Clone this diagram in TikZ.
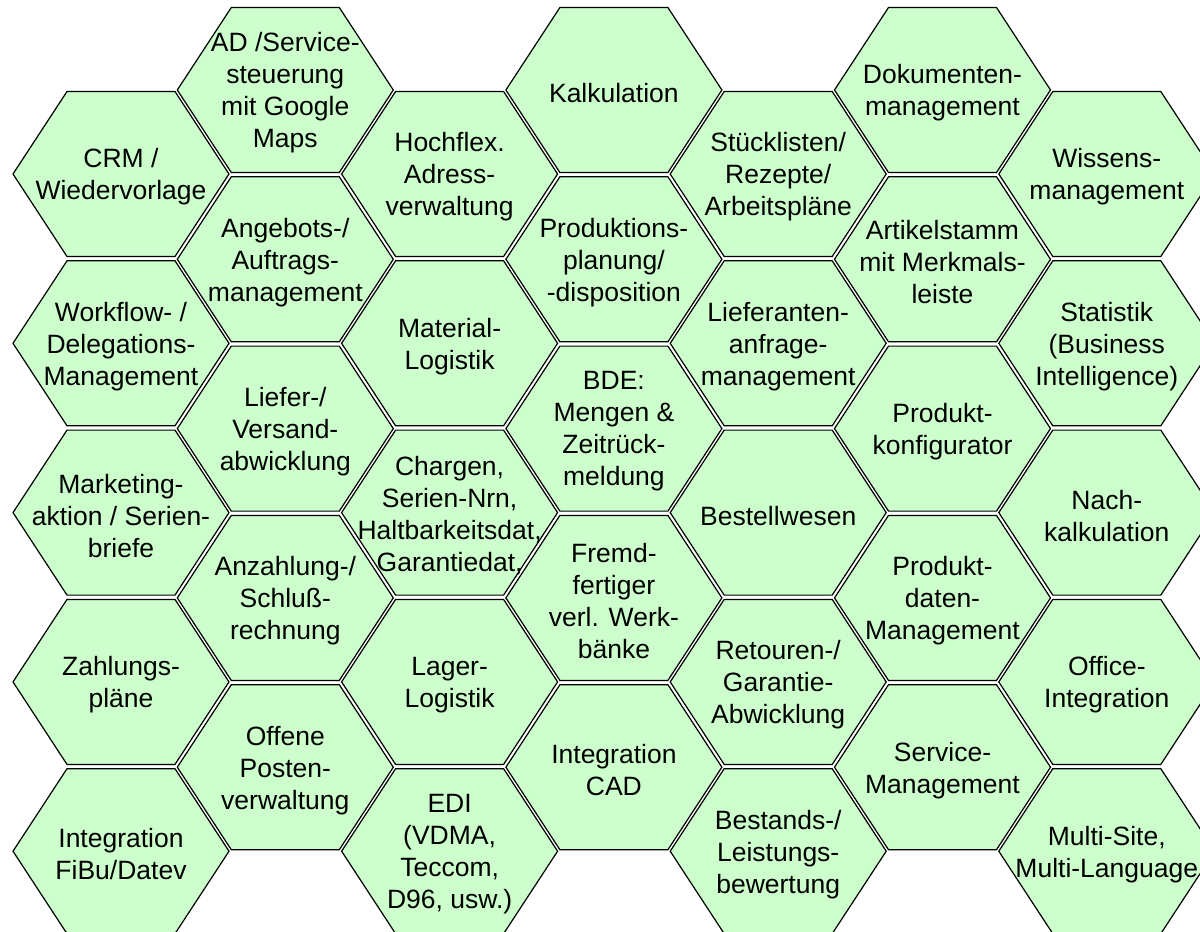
\documentclass[tikz,border=0pt]{standalone}
\usepackage{fontspec}
\setmainfont{Liberation Sans}
\definecolor{hexgreen}{RGB}{204,255,204}
\tikzset{
  hexshape/.style={draw=black, fill=hexgreen, line width=1.2pt, line join=miter},
  hexlabel/.style={align=center, inner sep=0pt, text=black, yshift=-3pt,
    font=\fontsize{26.5}{32}\selectfont}
}
\newcommand{\hexcell}[4]{%
  \coordinate (#1c) at (#2,#3);
  \draw[hexshape] (#1c) ++(-108,0) -- ++(54,-82.5) -- ++(108,0) -- ++(54,82.5) -- ++(-54,82.5) -- ++(-108,0) -- cycle;
  \node[hexlabel] (#1) at (#1c) {#4};
}
\begin{document}
\begin{tikzpicture}[x=1pt,y=-1pt]
\useasboundingbox (0,0) rectangle (1200,932);
\clip (0,0) rectangle (1200,932);
% column 1
\hexcell{a1}{121}{174}{CRM /\\Wiedervorlage}
\hexcell{a2}{121}{343.3}{Workflow- /\\Delegations-\\Management}
\hexcell{a3}{121}{512.6}{Marketing-\\aktion / Serien-\\briefe}
\hexcell{a4}{121}{681.9}{Zahlungs-\\pläne}
\hexcell{a5}{121}{851.2}{Integration\\FiBu/Datev}
% column 2
\hexcell{b1}{285.3}{90}{AD /Service-\\steuerung\\mit Google\\Maps}
\hexcell{b2}{285.3}{259.3}{Angebots-/\\Auftrags-\\management}
\hexcell{b3}{285.3}{428.6}{Liefer-/\\Versand-\\abwicklung}
\hexcell{b4}{285.3}{597.9}{Anzahlung-/\\Schluß-\\rechnung}
\hexcell{b5}{285.3}{767.2}{Offene\\Posten-\\verwaltung}
% column 3
\hexcell{c1}{449.6}{174}{Hochflex.\\Adress-\\verwaltung}
\hexcell{c2}{449.6}{343.3}{Material-\\Logistik}
\hexcell{c3}{449.6}{512.6}{Chargen,\\Serien-Nrn,\\Haltbarkeitsdat,\\Garantiedat,}
\hexcell{c4}{449.6}{681.9}{Lager-\\Logistik}
\hexcell{c5}{449.6}{851.2}{EDI\\(VDMA,\\Teccom,\\D96, usw.)}
% column 4
\hexcell{d1}{613.9}{90}{Kalkulation}
\hexcell{d2}{613.9}{259.3}{Produktions-\\planung/\\-disposition}
\hexcell{d3}{613.9}{428.6}{BDE:\\Mengen \&\\Zeitrück-\\meldung}
\hexcell{d4}{613.9}{597.9}{Fremd-\\fertiger\\verl. Werk-\\bänke}
\hexcell{d5}{613.9}{767.2}{Integration\\CAD}
% column 5
\hexcell{e1}{778.2}{174}{Stücklisten/\\Rezepte/\\Arbeitspläne}
\hexcell{e2}{778.2}{343.3}{Lieferanten-\\anfrage-\\management}
\hexcell{e3}{778.2}{512.6}{Bestellwesen}
\hexcell{e4}{778.2}{681.9}{Retouren-/\\Garantie-\\Abwicklung}
\hexcell{e5}{778.2}{851.2}{Bestands-/\\Leistungs-\\bewertung}
% column 6
\hexcell{f1}{942.5}{90}{Dokumenten-\\management}
\hexcell{f2}{942.5}{259.3}{Artikelstamm\\mit Merkmals-\\leiste}
\hexcell{f3}{942.5}{428.6}{Produkt-\\konfigurator}
\hexcell{f4}{942.5}{597.9}{Produkt-\\daten-\\Management}
\hexcell{f5}{942.5}{767.2}{Service-\\Management}
% column 7
\hexcell{g1}{1106.8}{174}{Wissens-\\management}
\hexcell{g2}{1106.8}{343.3}{Statistik\\(Business\\Intelligence)}
\hexcell{g3}{1106.8}{512.6}{Nach-\\kalkulation}
\hexcell{g4}{1106.8}{681.9}{Office-\\Integration}
\hexcell{g5}{1106.8}{851.2}{Multi-Site,\\Multi-Language}
\end{tikzpicture}
\end{document}
